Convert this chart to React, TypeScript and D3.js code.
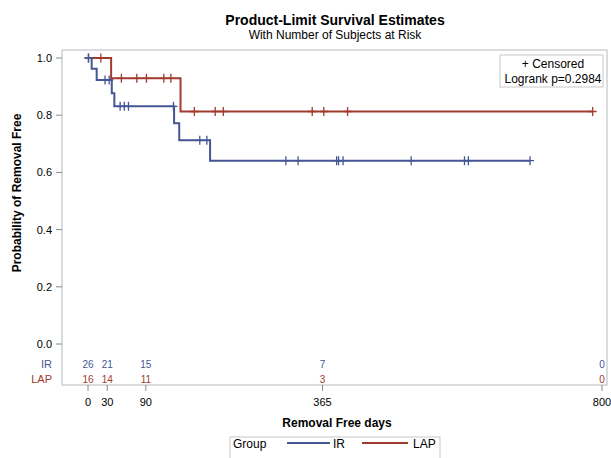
import React from "react"
import * as d3 from "d3"

// step curves (time in days, survival after the drop)
const irTimes = [0, 5.7, 13.5, 37, 41, 134, 142, 190]
const irSurv = [1, 0.962, 0.923, 0.877, 0.831, 0.772, 0.712, 0.641]
const irEnd = 688
const irCensor = [0.5, 26.5, 33, 50, 56.5, 63, 133, 174, 185, 308, 327, 387, 390, 397, 503, 586, 592, 688]

const lapTimes = [0, 36, 144]
const lapSurv = [1, 0.929, 0.813]
const lapEnd = 785.5
const lapCensor = [1, 20, 52, 76, 91, 118, 129, 165.5, 198, 210.6, 349, 367, 404, 785.5]

const riskTimes = [0, 30, 90, 365, 800]
const irRisk = [26, 21, 15, 7, 0]
const lapRisk = [16, 14, 11, 3, 0]

const yTicks = [0, 0.2, 0.4, 0.6, 0.8, 1.0]
const xTicks = [0, 30, 90, 365, 800]

const BLUE = "#445694"
const RED = "#A23A2E"
const FONT = "'Liberation Sans', Arial, sans-serif"

export default function App() {
  const x = d3.scaleLinear().domain([0, 800]).range([88, 602])
  const y = d3.scaleLinear().domain([0, 1]).range([344, 58])

  const frame = {left: 62, top: 50, right: 607, bottom: 385}

  const line = d3.line<[number, number]>()
    .x(d => x(d[0]))
    .y(d => y(d[1]))
    .curve(d3.curveStepAfter)

  const makePts = (times: number[], surv: number[], end: number): [number, number][] => {
    const pts: [number, number][] = times.map((t, i) => [t, surv[i]])
    pts.push([end, surv[surv.length - 1]])
    return pts
  }

  const survAt = (times: number[], surv: number[], t: number) =>
    surv[Math.max(0, d3.bisectRight(times, t) - 1)]

  const censorMarks = (times: number[], surv: number[], cens: number[], color: string) =>
    cens.map((t, i) => {
      const cx = x(t), cy = y(survAt(times, surv, t))
      return (
        <path key={i} d={`M${cx - 4},${cy}H${cx + 4}M${cx},${cy - 4.5}V${cy + 4.5}`}
          stroke={color} strokeWidth={1.3} fill="none" />
      )
    })

  return (
    <svg width={611} height={458} style={{position: "absolute", left: 0, top: 0, background: "#fff"}}
      fontFamily={FONT}>
      <text x={335} y={25} textAnchor="middle" fontSize={14} fontWeight="bold">Product-Limit Survival Estimates</text>
      <text x={335} y={39} textAnchor="middle" fontSize={12}>With Number of Subjects at Risk</text>

      <rect x={frame.left} y={frame.top} width={frame.right - frame.left} height={frame.bottom - frame.top}
        fill="none" stroke="#b4babe" strokeWidth={1} />

      {yTicks.map(t => (
        <g key={t}>
          <line x1={56} x2={frame.left} y1={y(t)} y2={y(t)} stroke="#888" />
          <text x={52} y={y(t) + 4} textAnchor="end" fontSize={11}>{t.toFixed(1)}</text>
        </g>
      ))}

      {xTicks.map(t => (
        <g key={t}>
          <line x1={x(t)} x2={x(t)} y1={frame.bottom} y2={frame.bottom + 6} stroke="#888" />
          <text x={x(t)} y={406} textAnchor="middle" fontSize={11}>{t}</text>
        </g>
      ))}

      <text transform="translate(21,193) rotate(-90)" textAnchor="middle" fontSize={12} fontWeight="bold">
        Probability of Removal Free
      </text>
      <text x={337} y={427} textAnchor="middle" fontSize={12} fontWeight="bold">Removal Free days</text>

      <path d={line(makePts(lapTimes, lapSurv, lapEnd)) || ""} stroke={RED} strokeWidth={2} fill="none" />
      {censorMarks(lapTimes, lapSurv, lapCensor, RED)}
      <path d={line(makePts(irTimes, irSurv, irEnd)) || ""} stroke={BLUE} strokeWidth={2} fill="none" />
      {censorMarks(irTimes, irSurv, irCensor, BLUE)}

      <text x={52} y={368} textAnchor="end" fontSize={11} fill={BLUE}>IR</text>
      <text x={52} y={383} textAnchor="end" fontSize={11} fill={RED}>LAP</text>
      {riskTimes.map((t, i) => (
        <g key={t}>
          <text x={x(t)} y={368} textAnchor="middle" fontSize={10} fill={BLUE}>{irRisk[i]}</text>
          <text x={x(t)} y={383} textAnchor="middle" fontSize={10} fill={RED}>{lapRisk[i]}</text>
        </g>
      ))}

      <rect x={500} y={55} width={103} height={32} fill="#fff" stroke="#c8c8c8" />
      <text x={553} y={68} textAnchor="middle" fontSize={12}>+ Censored</text>
      <text x={553} y={83} textAnchor="middle" fontSize={12}>Logrank p=0.2984</text>

      <rect x={230} y={437} width={210} height={24} fill="#fff" stroke="#c8c8c8" />
      <text x={233} y={448} fontSize={12}>Group</text>
      <line x1={287} x2={330} y1={443} y2={443} stroke={BLUE} strokeWidth={2} />
      <text x={333} y={448} fontSize={12}>IR</text>
      <line x1={362} x2={408} y1={443} y2={443} stroke={RED} strokeWidth={2} />
      <text x={413} y={448} fontSize={12}>LAP</text>
    </svg>
  )
}
